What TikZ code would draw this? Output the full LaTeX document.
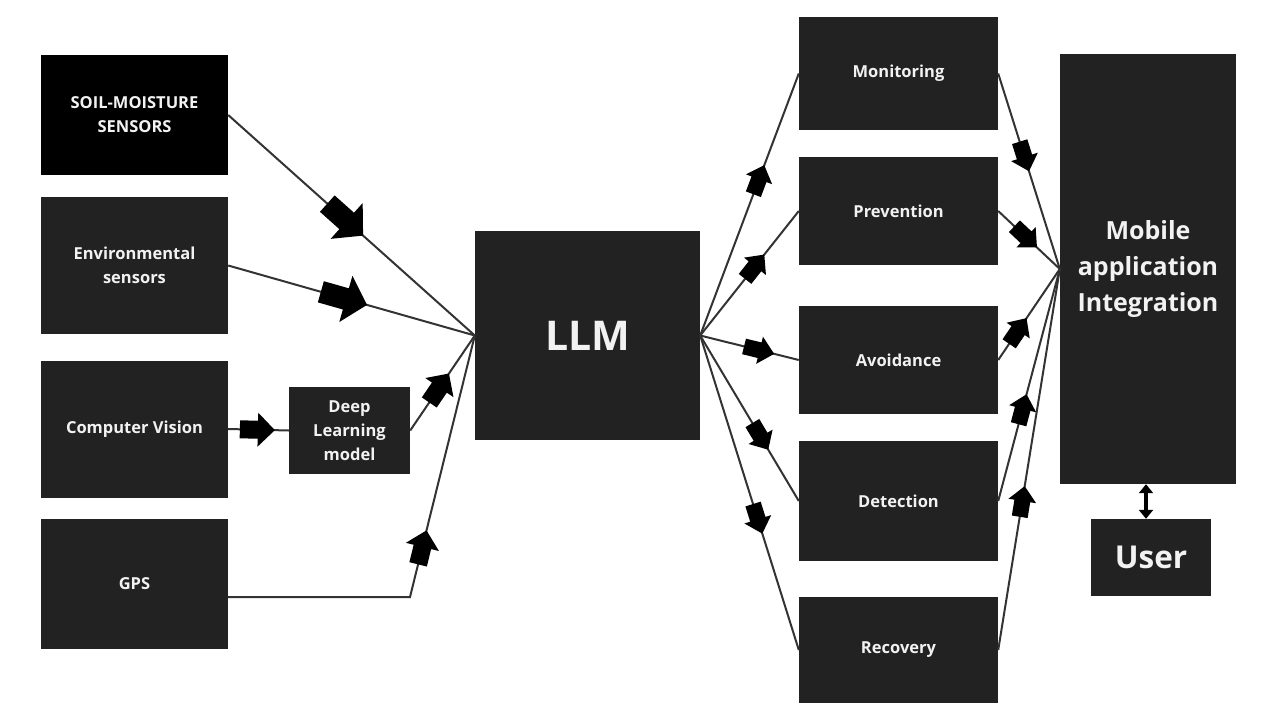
\documentclass[tikz,border=0pt]{standalone}
\usepackage{fontspec}
\setmainfont{Open Sans}
\usetikzlibrary{decorations.markings,arrows.meta,calc}
\definecolor{boxgray}{HTML}{222222}
\definecolor{txt}{HTML}{F2F2F2}
\definecolor{linec}{HTML}{333333}
\newcommand\blockarr[4]{\fill[black] (-#1pt,-#2pt) -- (-#4pt,-#2pt) -- (-#4pt,-#3pt) -- (0pt,0pt) -- (-#4pt,#3pt) -- (-#4pt,#2pt) -- (-#1pt,#2pt) -- cycle;}
\tikzset{
  box/.style={fill=boxgray, text=txt, font=\bfseries\fontsize{16.5}{24}\selectfont, align=center, inner sep=0pt},
  conn/.style={draw=linec, line width=2pt},
  bigarr/.style={postaction={decorate,decoration={markings,mark=at position #1 with {\blockarr{48}{11}{24}{22}}}}},
  midarr/.style={postaction={decorate,decoration={markings,mark=at position #1 with {\blockarr{35}{9}{17}{17}}}}},
  smallarr/.style={postaction={decorate,decoration={markings,mark=at position #1 with {\blockarr{31}{8}{14}{15}}}}}
}
\begin{document}
\begin{tikzpicture}[x=1pt,y=-1pt]
\useasboundingbox (0,0) rectangle (1280,720);
% left column
\node[box, fill=black, minimum width=187pt, minimum height=120pt] (soil) at (134.5,115) {SOIL-MOISTURE\\SENSORS};
\node[box, minimum width=187pt, minimum height=137pt] (env) at (134.5,265.5) {Environmental\\sensors};
\node[box, minimum width=187pt, minimum height=137pt] (cv) at (134.5,429) {Computer Vision};
\node[box, minimum width=187pt, minimum height=130pt] (gps) at (134.5,584) {GPS};
\node[box, minimum width=121pt, minimum height=87pt] (dl) at (349.5,430.5) {Deep\\Learning\\model};
% center
\node[box, minimum width=225pt, minimum height=209pt, font=\bfseries\fontsize{41}{46}\selectfont] (llm) at (587.5,335.5) {LLM};
% right column
\node[box, minimum width=199pt, minimum height=113pt] (mon) at (898.5,73.5) {Monitoring};
\node[box, minimum width=199pt, minimum height=108pt] (prev) at (898.5,211) {Prevention};
\node[box, minimum width=199pt, minimum height=108pt] (avoid) at (898.5,360) {Avoidance};
\node[box, minimum width=199pt, minimum height=120pt] (det) at (898.5,501) {Detection};
\node[box, minimum width=199pt, minimum height=106pt] (rec) at (898.5,650) {Recovery};
\node[box, minimum width=176pt, minimum height=430pt, font=\bfseries\fontsize{25}{36}\selectfont] (mob) at (1148,269) {Mobile\\application\\Integration};
\node[box, minimum width=120pt, minimum height=77pt, font=\bfseries\fontsize{31.5}{36}\selectfont] (user) at (1151,557.5) {User};
\coordinate (gpsbend) at (410,597);
% left connectors
\draw[conn, bigarr=0.547] (soil.east) -- (llm.west);
\draw[conn, bigarr=0.563] (env.east) -- (llm.west);
\draw[conn, midarr=0.77] (cv.east) -- (dl.west);
\draw[conn, midarr=0.6] (dl.east) -- (llm.west);
\draw[conn, midarr=0.555] (gpsbend -| gps.east) -- (gpsbend) -- (llm.west);
% center to categories
\draw[conn, smallarr=0.65] (llm.east) -- (mon.west);
\draw[conn, smallarr=0.65] (llm.east) -- (prev.west);
\draw[conn, smallarr=0.75] (llm.east) -- (avoid.west);
\draw[conn, smallarr=0.69] (llm.east) -- (det.west);
\draw[conn, smallarr=0.63] (llm.east) -- (rec.west);
% categories to mobile
\draw[conn, smallarr=0.5] (mon.east) -- (mob.west);
\draw[conn, smallarr=0.63] (prev.east) -- (mob.west);
\draw[conn, smallarr=0.46] (avoid.east) -- (mob.west);
\draw[conn, smallarr=0.46] (det.east) -- (mob.west);
\draw[conn, smallarr=0.43] (rec.east) -- (mob.west);
% mobile <-> user
\draw[black, line width=3.5pt, {Triangle[length=9pt,width=14pt]}-{Triangle[length=9pt,width=14pt]}] ([xshift=-2pt]mob.south) -- ([xshift=-2pt]mob.south |- user.north);
\end{tikzpicture}
\end{document}
